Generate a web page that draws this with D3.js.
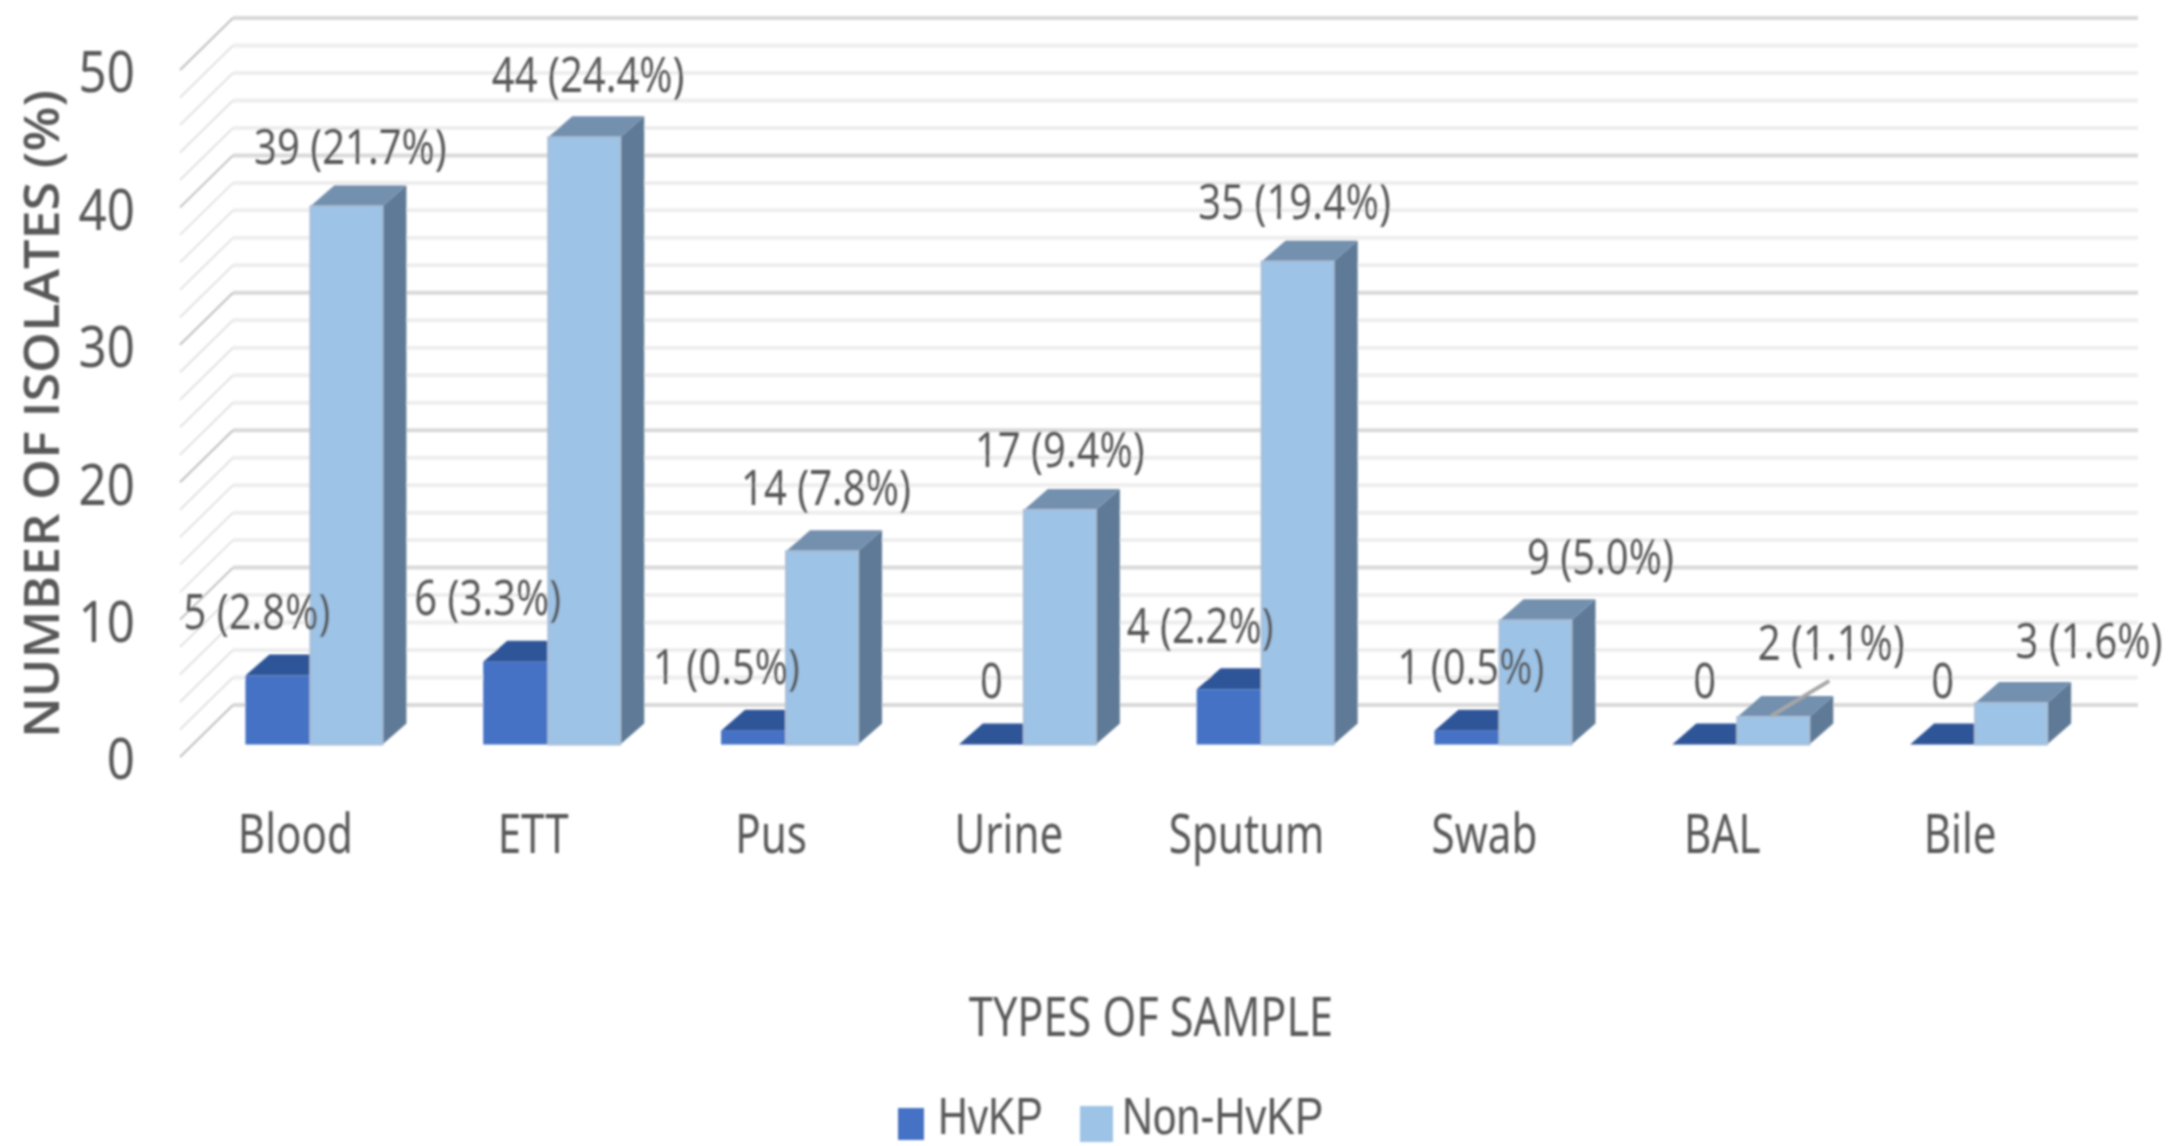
<!DOCTYPE html>
<html>
<head>
<meta charset="utf-8">
<script src="https://cdnjs.cloudflare.com/ajax/libs/d3/7.8.5/d3.min.js"></script>
<style>
  html, body { margin: 0; background: #fff; }
  text { font-family: "Noto Sans", sans-serif; fill: #595959; }
</style>
</head>
<body>
<div id="chart"></div>
<script>
const categories = ['Blood', 'ETT', 'Pus', 'Urine', 'Sputum', 'Swab', 'BAL', 'Bile'];
const hvkpValues = [5, 6, 1, 0, 4, 1, 0, 0];
const nonHvkpValues = [39, 44, 14, 17, 35, 9, 2, 3];
const hvkpLabels = ['5 (2.8%)', '6 (3.3%)', '1 (0.5%)', '0', '4 (2.2%)', '1 (0.5%)', '0', '0'];
const nonHvkpLabels = ['39 (21.7%)', '44 (24.4%)', '14 (7.8%)', '17 (9.4%)', '35 (19.4%)', '9 (5.0%)', '2 (1.1%)', '3 (1.6%)'];
const yTicks = [0, 10, 20, 30, 40, 50];
const gridValues = d3.range(0, 51, 2);

// hand placed label nudges, excel moved some of these
const hvkpNudge = [-21, -28, -27, 0, -29, 4, 0, 0];
const nonNudge = [4, 4, 4, 0, -3, 65, 58, 78];
const nonLift = [0, 3, 4, 0, 0, 4, 14, 3];

const width = 2174, height = 1146;
const depth = { wallX: 53, wallY: 52, barX: 24, barY: 21 };
const wallRight = 2138;
const hvkpW = 65, nonW = 72;

const svg = d3.select('#chart').append('svg')
  .attr('width', width).attr('height', height);

// source picture is a soft upscaled screenshot
const defs = svg.append('defs');
defs.append('filter').attr('id', 'soft')
  .append('feGaussianBlur').attr('stdDeviation', 1.2);

const g = svg.append('g').attr('filter', 'url(#soft)');

const x = d3.scaleBand().domain(categories).range([194.5, 2097]);
const yBar = d3.scaleLinear().domain([0, 50]).range([744.5, 54.5]);
const yWall = d3.scaleLinear().domain([0, 50]).range([705, 18]);
const yFront = d3.scaleLinear().domain([0, 50]).range([757, 70]);

// no condensed face installed, so squeeze the glyphs to the original width
function squeeze(sel, factor) {
  sel.each(function () {
    d3.select(this)
      .attr('textLength', this.getComputedTextLength() * factor)
      .attr('lengthAdjust', 'spacingAndGlyphs');
  });
}

// Grid
gridValues.forEach(v => {
  const major = v % 10 === 0;
  g.append('line')
    .attr('x1', 233).attr('x2', wallRight)
    .attr('y1', yWall(v)).attr('y2', yWall(v))
    .attr('stroke', major ? '#d9d9d9' : '#eeeeee')
    .attr('stroke-width', 4);
  g.append('line')
    .attr('x1', 233 - depth.wallX).attr('x2', 233)
    .attr('y1', yWall(v) + depth.wallY).attr('y2', yWall(v))
    .attr('stroke', major ? '#bfbfbf' : '#e2e2e2')
    .attr('stroke-width', 2);
});

function bar(parent, left, w, value, colors) {
  const bottom = yBar(0), top = yBar(value);
  const dx = depth.barX, dy = depth.barY;
  const poly = pts => parent.append('polygon').attr('points', pts.map(p => p.join(',')).join(' '));
  if (value > 0) {
    poly([[left + w, top], [left + w + dx, top - dy], [left + w + dx, bottom - dy], [left + w, bottom]])
      .attr('fill', colors.side);
  }
  poly([[left, top], [left + dx, top - dy], [left + w + dx, top - dy], [left + w, top]])
    .attr('fill', colors.top);
  if (value > 0) {
    parent.append('rect')
      .attr('x', left).attr('y', top)
      .attr('width', w).attr('height', bottom - top)
      .attr('fill', colors.front)
      .attr('stroke', colors.edge || 'none')
      .attr('stroke-width', 2);
  }
}

const hvkpColors = { front: '#4472c4', top: '#2f5597', side: '#2f5597' };
const nonColors = { front: '#9dc3e6', top: '#7390af', side: '#5f7a96', edge: '#a9bfd8' };

categories.forEach((c, i) => {
  const split = x(c) + x.bandwidth() / 2 - 3;
  bar(g, split - hvkpW, hvkpW, hvkpValues[i], hvkpColors);
  bar(g, split, nonW, nonHvkpValues[i], nonColors);
});

// BAL leader line
const balSplit = x('BAL') + x.bandwidth() / 2 - 3;
g.append('line')
  .attr('x1', balSplit + 34).attr('y1', yBar(2) - 1)
  .attr('x2', balSplit + 92).attr('y2', yBar(2) - 36)
  .attr('stroke', '#a6a6a6').attr('stroke-width', 4);

// Value labels
categories.forEach((c, i) => {
  const split = x(c) + x.bandwidth() / 2 - 3;
  g.append('text')
    .attr('x', split - hvkpW / 2 + hvkpNudge[i])
    .attr('y', yBar(hvkpValues[i]) - 64)
    .attr('dy', '0.35em')
    .attr('text-anchor', 'middle')
    .style('font-size', '50px')
    .text(hvkpLabels[i])
    .call(squeeze, 0.8);
  g.append('text')
    .attr('x', split + nonW / 2 + nonNudge[i])
    .attr('y', yBar(nonHvkpValues[i]) - 60 - nonLift[i])
    .attr('dy', '0.35em')
    .attr('text-anchor', 'middle')
    .style('font-size', '50px')
    .text(nonHvkpLabels[i])
    .call(squeeze, 0.8);
});

// Axes
g.append('g')
  .attr('transform', 'translate(138,4)')
  .call(d3.axisLeft(yFront).tickValues(yTicks).tickSize(0))
  .call(a => a.select('.domain').remove())
  .selectAll('text')
  .style('font-size', '56px')
  .style('font-family', '"Noto Sans", sans-serif')
  .call(squeeze, 0.88);

g.append('g')
  .attr('transform', 'translate(-18,812)')
  .call(d3.axisBottom(x).tickSize(0))
  .call(a => a.select('.domain').remove())
  .selectAll('text')
  .style('font-size', '54px')
  .style('font-family', '"Noto Sans", sans-serif')
  .call(squeeze, 0.78);

g.append('text')
  .attr('transform', 'translate(42,414) rotate(-90)')
  .attr('dy', '0.35em')
  .attr('text-anchor', 'middle')
  .style('font-family', '"Open Sans", sans-serif')
  .style('font-size', '48px')
  .style('font-weight', 600)
  .attr('textLength', 648)
  .attr('lengthAdjust', 'spacingAndGlyphs')
  .text('NUMBER OF ISOLATES (%)');

g.append('text')
  .attr('x', 1151).attr('y', 1017)
  .attr('dy', '0.35em')
  .attr('text-anchor', 'middle')
  .style('font-size', '54px')
  .text('TYPES OF SAMPLE')
  .call(squeeze, 0.8);

// Legend
g.append('rect').attr('x', 898).attr('y', 1108).attr('width', 26).attr('height', 32).attr('fill', hvkpColors.front);
g.append('text').attr('x', 938).attr('y', 1134)
  .style('font-family', '"Liberation Sans", sans-serif').style('font-size', '52px')
  .text('HvKP').call(squeeze, 0.79);
g.append('rect').attr('x', 1080).attr('y', 1106).attr('width', 33).attr('height', 36).attr('fill', nonColors.front);
g.append('text').attr('x', 1122).attr('y', 1134)
  .style('font-family', '"Liberation Sans", sans-serif').style('font-size', '52px')
  .text('Non-HvKP').call(squeeze, 0.82);
</script>
</body>
</html>
